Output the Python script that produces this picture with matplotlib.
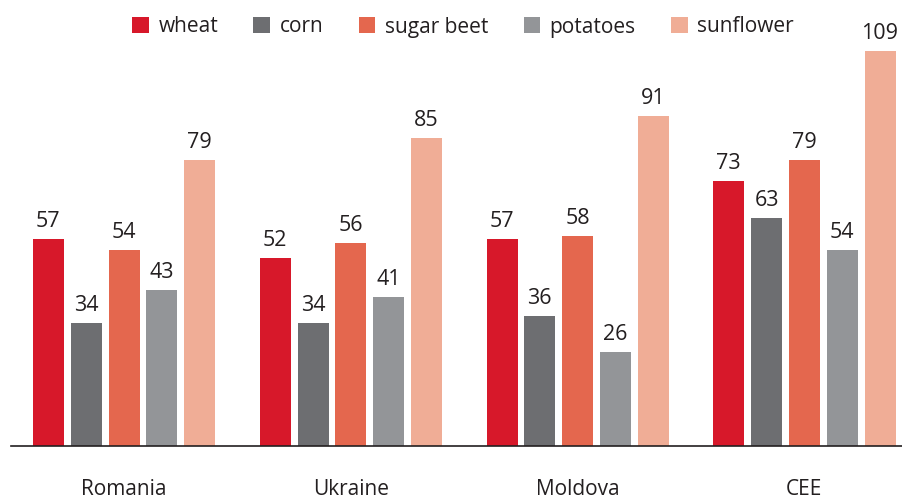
import matplotlib
matplotlib.use("Agg")
import matplotlib.pyplot as plt
import numpy as np

categories = ["Romania", "Ukraine", "Moldova", "CEE"]
series = ["wheat", "corn", "sugar beet", "potatoes", "sunflower"]
wheat = [57, 52, 57, 73]
corn = [34, 34, 36, 63]
sugar_beet = [54, 56, 58, 79]
potatoes = [43, 41, 26, 54]
sunflower = [79, 85, 91, 109]
values = [wheat, corn, sugar_beet, potatoes, sunflower]
colors = ["#D7182A", "#6D6E71", "#E4674E", "#939598", "#F0AD96"]

plt.rcParams['font.family'] = ['Open Sans', 'DejaVu Sans']
txt = "#231F20"

fig = plt.figure(figsize=(9.02, 4.99), dpi=100)
ax = fig.add_axes([11/902, 53/499, 1 - 11/902, (446 - 11)/499])

x = np.arange(len(categories))
pitch = 37.8 / 226.8
width = 31 / 226.8
for j, (name, vals, c) in enumerate(zip(series, values, colors)):
    pos = x + (j - 2) * pitch
    bars = ax.bar(pos, vals, width=width, color=c, label=name)
    for b, v in zip(bars, vals):
        ax.annotate(str(v), (b.get_x() + b.get_width() / 2, v), xytext=(0, 5),
                    textcoords="offset points", ha="center", va="bottom",
                    fontsize=15.5, color=txt)

ax.set_xlim((11 - 124) / 226.8, (902 - 124) / 226.8)
ax.set_ylim(0, 120)
ax.set_yticks([])
ax.set_xticks(x)
ax.set_xticklabels(categories, fontsize=15, color=txt)
ax.tick_params(axis="x", length=0, pad=24)
for s in ["top", "right", "left"]:
    ax.spines[s].set_visible(False)
ax.spines["bottom"].set_color("#231F20")
ax.spines["bottom"].set_linewidth(1.2)

fig.legend(loc="center", bbox_to_anchor=(463 / 902, 1 - 27 / 499), ncol=5,
           frameon=False, fontsize=15, handlelength=0.8, handleheight=0.8,
           handletextpad=0.45, columnspacing=1.7, labelcolor=txt)

fig.savefig("out.png", dpi=100)
